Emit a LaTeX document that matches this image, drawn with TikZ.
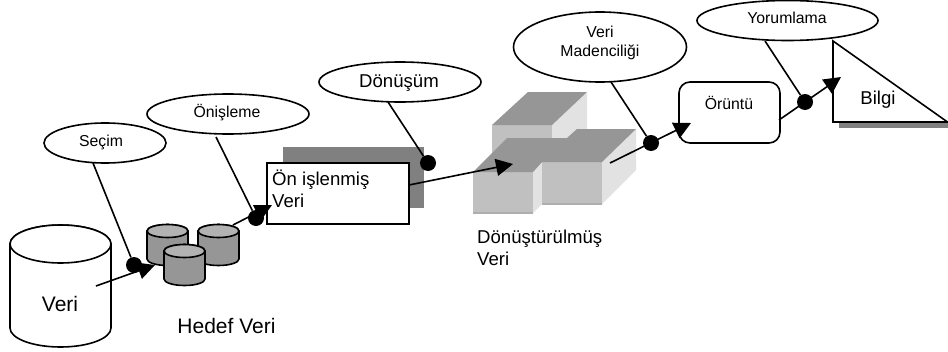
\documentclass[tikz,border=0pt]{standalone}
\usepackage{fontspec}
\setmainfont{Liberation Sans}
\usetikzlibrary{arrows.meta,shapes.geometric}
\definecolor{cubetop}{HTML}{969696}
\definecolor{cubefront}{HTML}{C0C0C0}
\definecolor{cubeside}{HTML}{E2E2E2}
\definecolor{cubeedge}{HTML}{AEAEAE}
\definecolor{cylbody}{HTML}{969696}
\definecolor{cyltop}{HTML}{B2B2B2}
\definecolor{backrect}{HTML}{808080}
\newcommand{\fs}[2]{\fontsize{#1}{#2}\selectfont}
\newcommand{\mycyl}[7]{% x1 x2 ytop ybottom ry bodyfill topfill
  \path[draw=black,line width=1.6pt,fill=#6]
    (#1,#3) -- (#1,#4) arc[start angle=180,end angle=0,x radius={(#2-#1)/2},y radius=#5] -- (#2,#3)
    arc[start angle=0,end angle=-180,x radius={(#2-#1)/2},y radius=#5] -- cycle;
  \path[draw=black,line width=1.6pt,fill=#7]
    ({(#1+#2)/2},#3) ellipse[x radius={(#2-#1)/2},y radius=#5];
}
\tikzset{
  x=1pt,y=-1pt,
  conn/.style={line width=1.6pt,draw=black},
  flow/.style={conn,-{Triangle[length=17pt,width=17pt]}},
  bubble/.style={ellipse,draw=black,line width=1.6pt,fill=white,inner sep=0pt,minimum width=#1},
  dot/.style={circle,fill=black,inner sep=0pt,minimum size=16pt},
  small/.style={font=\fs{15.8}{19},inner sep=0pt,align=center},
  big/.style={font=\fs{18.6}{21.8},inner sep=0pt,align=left},
  huge/.style={font=\fs{21}{24},inner sep=0pt},
  box/.style={draw=black,line width=1.6pt,inner sep=0pt},
}
\begin{document}
\begin{tikzpicture}
\useasboundingbox (0,0) rectangle (948,351);
% coordinates for free ends
\coordinate (vs) at (96,286);
\coordinate (ve) at (155,265);
\coordinate (ts) at (233,225);
\coordinate (te) at (272,205);
\coordinate (ps) at (409,185);
\coordinate (pe) at (513,164);
\coordinate (ds) at (610,163);
\coordinate (de) at (691,123);
\coordinate (os) at (779,120);
\coordinate (oe) at (841,77);
% big cylinder
\mycyl{10}{111}{244}{328}{19}{white}{white}
\node[huge,anchor=base] (veri) at (60,311) {Veri};
% small cylinders
\mycyl{147}{188}{231}{259}{6.5}{cylbody}{cyltop}
\mycyl{198}{239}{231}{259}{6.5}{cylbody}{cyltop}
\mycyl{164}{205}{251}{279}{6.5}{cylbody}{cyltop}
\node[huge,anchor=base] (hedef) at (226.5,333) {Hedef Veri};
% preprocessed data
\node[fill=backrect,minimum width=141pt,minimum height=61pt,inner sep=0pt] (back) at (353.5,177.5) {};
\node[box,fill=white,minimum width=142pt,minimum height=61pt] (onis) at (338,193.5) {};
\node[big,anchor=north west] (onist) at (272,170) {Ön işlenmiş\\Veri};
% transformed cubes
\fill[cubeside] (552,125) -- (587,92) -- (587,140) -- (552,172) -- cycle;
\fill[cubefront] (492,125) -- (552,125) -- (552,172) -- (492,172) -- cycle;
\fill[cubetop] (492,125) -- (528,92) -- (587,92) -- (552,125) -- cycle;
\fill[cubeside] (602,162) -- (636,129) -- (636,170) -- (602,204) -- cycle;
\fill[cubeside] (533,172) -- (542,162) -- (542,204) -- (533,213) -- cycle;
\fill[cubefront] (542,162) -- (602,162) -- (602,204) -- (542,204) -- cycle;
\fill[cubefront] (473,172) -- (533,172) -- (533,213) -- (473,213) -- cycle;
\fill[cubeedge] (473,212) rectangle (533,214);
\fill[cubeedge] (542,203) rectangle (602,205);
\fill[cubetop] (473,172) -- (507,138) -- (567,138) -- (577,129) -- (636,129) -- (602,162) -- (542,162) -- (533,172) -- cycle;
\node[big,anchor=north west] (dont) at (477,230) {Dönüştürülmüş\\Veri};
% pattern box and knowledge triangle
\node[box,fill=white,rounded corners=11pt,minimum width=101pt,minimum height=61pt] (orun) at (729.5,112.5) {};
\node[small,anchor=base] (orunt) at (729,109) {Örüntü};
\fill[backrect] (839,122) rectangle (948,127.5);
\coordinate (ba) at (833,41);
\coordinate (bb) at (833,122);
\coordinate (bc) at (947.5,122);
\draw[line width=1.6pt,fill=white,line join=miter] (ba) -- (bb) -- (bc) -- cycle;
\node[big,anchor=base] (bilgi) at (878,104) {Bilgi};
% ellipses
\node[bubble=122pt,minimum height=40pt] (secim) at (105,143) {};
\node[small,anchor=base] (secimt) at (101,146) {Seçim};
\node[bubble=162pt,minimum height=40pt] (onisl) at (228,114) {};
\node[small,anchor=base] (onislt) at (227,117) {Önişleme};
\node[bubble=162pt,minimum height=40pt] (donus) at (400,82) {};
\node[big,anchor=base] (donust) at (399,87) {Dönüşüm};
\node[bubble=173pt,minimum height=70pt] (madn) at (600,47) {};
\node[small] (madnt) at (600,43) {Veri\\Madenciliği};
\node[bubble=181pt,minimum height=40pt] (yorum) at (787.5,20.5) {};
\node[small,anchor=base] (yorumt) at (787,23) {Yorumlama};
% dots
\node[dot] (d1) at (134,265) {};
\node[dot] (d2) at (256,218) {};
\node[dot] (d3) at (428,163) {};
\node[dot] (d4) at (651,143) {};
\node[dot] (d5) at (805,102) {};
% connectors
\coordinate (s1) at (93,163);
\coordinate (s2) at (216,137);
\coordinate (s3) at (388,102);
\coordinate (s4) at (611,82);
\coordinate (s5) at (765,41);
\draw[conn] (s1) -- (d1);
\draw[conn] (s2) -- (d2);
\draw[conn] (s3) -- (d3);
\draw[conn] (s4) -- (d4);
\draw[conn] (s5) -- (d5);
\draw[flow] (vs) -- (ve);
\draw[flow] (ts) -- (te);
\draw[flow] (ps) -- (pe);
\draw[flow] (ds) -- (de);
\draw[flow] (os) -- (oe);
\end{tikzpicture}
\end{document}
